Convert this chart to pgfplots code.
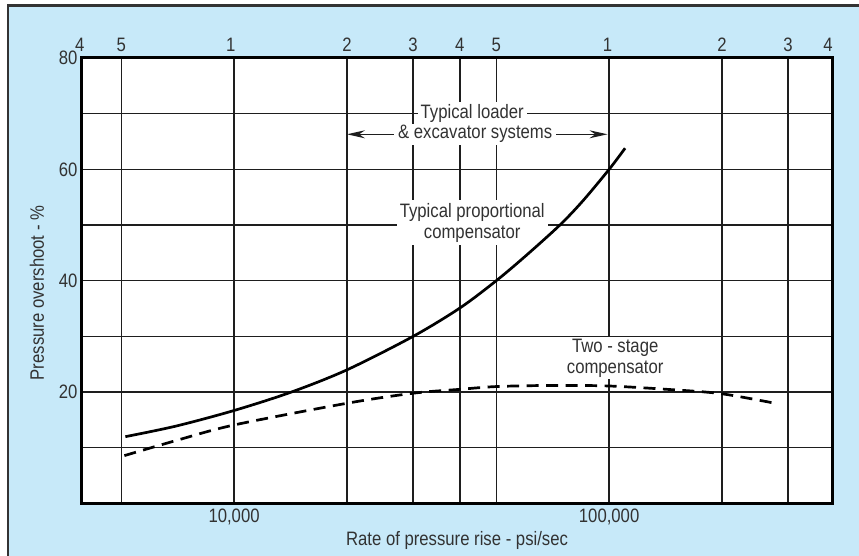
\documentclass[border=0pt]{standalone}
\usepackage{fontspec}
\setmainfont{Liberation Sans}[FakeStretch=0.86]
\usepackage{pgfplots}
\pgfplotsset{compat=1.18}
\usetikzlibrary{arrows.meta}
\definecolor{bgblue}{RGB}{199,233,249}
\definecolor{txt}{RGB}{50,50,50}
\definecolor{gridc}{RGB}{30,30,30}

\pgfplotstableread{
x y
5130 12.0
7000 13.9
10000 16.7
14200 20.0
20000 24.0
30000 30.0
40000 35.1
50000 40.0
60000 44.5
73900 50.0
85000 54.3
100000 60.0
110300 63.8
}\solid

\pgfplotstableread{
x y
5100 8.6
7000 11.3
10000 14.1
20000 18.0
30000 19.8
40000 20.5
50000 21.0
70000 21.2
100000 21.1
150000 20.4
200000 19.7
282000 17.9
}\dashedt

\begin{document}
\begin{tikzpicture}[font=\fontsize{19.5}{21}\selectfont]
\path[use as bounding box] (0bp,0bp) rectangle (859bp,556bp);
\fill[white] (0bp,0bp) rectangle (859bp,556bp);
\fill[bgblue] (8bp,0bp) rectangle (859bp,550bp);
\draw[line width=2.5bp, color=black!80] (8bp,0bp) -- (8bp,550.5bp) -- (859bp,550.5bp);
\begin{axis}[
  at={(81bp,52.5bp)}, anchor=south west, scale only axis,
  width=751bp, height=445.5bp,
  xmode=log, xmin=3908, xmax=393000, ymin=0, ymax=80,
  axis background/.style={fill=white},
  axis line style={line width=3bp, black},
  xtick={5000,10000,20000,30000,40000,50000,100000,200000,300000},
  xticklabels={,{10,000},,,,,{100,000},,},
  ytick={10,20,30,40,50,60,70,80},
  yticklabels={,20,,40,,60,,80},
  /pgf/number format/assume math mode=true,
  major tick length=0pt,
  grid=major, grid style={line width=1.3bp, gridc},
  ticklabel style={text=txt, font=\fontsize{19.5}{21}\selectfont},
  xticklabel style={yshift=-2bp},
  xlabel={Rate of pressure rise - psi/sec},
  ylabel={Pressure overshoot - \%},
  label style={text=txt, font=\fontsize{19.5}{21}\selectfont},
  xlabel style={at={(axis description cs:0.5007,-0.0819)}, anchor=center},
  ylabel style={at={(axis description cs:-0.0586,0.4725)}, anchor=center},
  clip=false,
]
% annotations (drawn under the curves)
\draw[line width=1.3bp, gridc, {Stealth[length=18bp,width=8bp]}-{Stealth[length=18bp,width=8bp]}]
  (axis cs:20000,66.3) -- (axis cs:99000,66.3);
\node[fill=white, text=txt, inner xsep=3bp, inner ysep=2bp] at (axis cs:43150,70.1) {Typical loader};
\node[fill=white, text=txt, inner xsep=4bp, inner ysep=2bp] at (axis cs:43950,66.3) {\& excavator systems};
\node[fill=white, text=txt, align=center, inner xsep=3bp, inner ysep=3bp] at (axis cs:43150,50.4) {Typical proportional\\compensator};
\node[fill=white, text=txt, align=center, inner xsep=3bp, inner ysep=2bp] at (axis cs:103800,26.1) {Two - stage\\compensator};

\addplot[black, line width=2.7bp, smooth, tension=0.5] table[x=x,y=y] {\solid};
\addplot[black, line width=2.7bp, smooth, tension=0.5, dash pattern=on 12bp off 7.5bp] table[x=x,y=y] {\dashedt};

% top tick labels
\node[text=txt, yshift=13bp] at (axis cs:3880,80) {4};
\node[text=txt, yshift=13bp] at (axis cs:5000,80) {5};
\node[text=txt, yshift=13bp] at (axis cs:9800,80) {1};
\node[text=txt, yshift=13bp] at (axis cs:20000,80) {2};
\node[text=txt, yshift=13bp] at (axis cs:30000,80) {3};
\node[text=txt, yshift=13bp] at (axis cs:40000,80) {4};
\node[text=txt, yshift=13bp] at (axis cs:50000,80) {5};
\node[text=txt, yshift=13bp] at (axis cs:99000,80) {1};
\node[text=txt, yshift=13bp] at (axis cs:200000,80) {2};
\node[text=txt, yshift=13bp] at (axis cs:300000,80) {3};
\node[text=txt, yshift=13bp] at (axis cs:383700,80) {4};
\end{axis}
\end{tikzpicture}
\end{document}
